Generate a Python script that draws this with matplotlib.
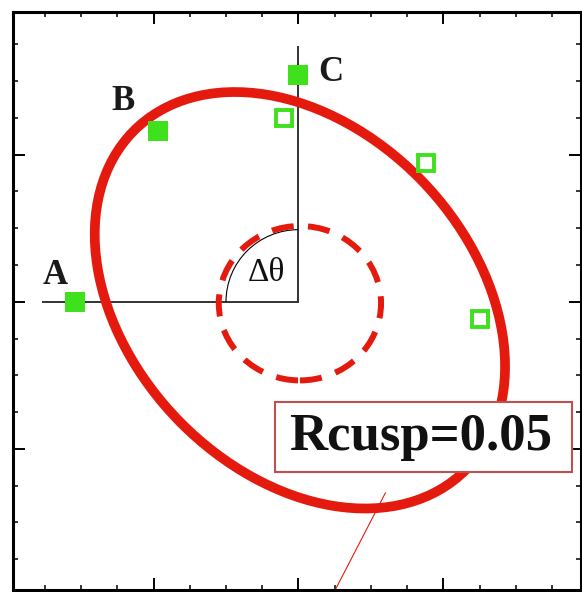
import matplotlib
matplotlib.use('Agg')
import matplotlib.pyplot as plt
from matplotlib.patches import Ellipse, Arc, Rectangle
from matplotlib.ticker import MultipleLocator

# outer (solid) tilted ellipse
outer_center = (0.01, 0.01)
outer_width, outer_height = 3.25, 2.34
outer_angle = -45

# inner dashed circle
cusp_center = (0.01, -0.01)
cusp_w, cusp_h = 1.12, 1.05

# filled points A, B, C
pt_labels = ['A', 'B', 'C']
filled_x = [-1.54, -0.97, 0.0]
filled_y = [0.0, 1.16, 1.54]

# open points
open_x = [-0.10, 0.88, 1.25]
open_y = [1.25, 0.94, -0.12]

label_x = [-1.68, -1.21, 0.22]
label_y = [0.18, 1.36, 1.56]

red = '#e51a0e'
green = '#3fe01c'

fig = plt.figure(figsize=(5.82, 5.92), dpi=100)
ax = fig.add_axes([13 / 582, 2 / 592, 568 / 582, 578 / 592])
ax.set_xlim(-1.97, 1.95)
ax.set_ylim(-1.96, 1.97)

# guide lines and angle arc
ax.plot([-1.76, 0], [0, 0], color='#333333', lw=1.4, zorder=2)
ax.plot([0, 0], [0, 1.73], color='#333333', lw=1.4, zorder=2)
ax.add_patch(Arc((0, 0), 1.0, 0.98, theta1=90, theta2=180, color='black', lw=0.8, zorder=2))

ax.add_patch(Ellipse(cusp_center, cusp_w, cusp_h, fill=False, edgecolor=red, lw=4.3,
                     linestyle=(0, (3.7, 2.4)), zorder=3))

ax.add_patch(Ellipse(outer_center, outer_width, outer_height, angle=outer_angle,
                     fill=False, edgecolor=red, lw=7, zorder=3))

ax.plot(filled_x, filled_y, 's', color=green, ms=14, mew=0, zorder=5)
ax.plot(open_x, open_y, 's', mfc='white', mec=green, ms=11.5, mew=2.8, zorder=5)

for t, x, y in zip(pt_labels, label_x, label_y):
    ax.text(x, y, t, family='Liberation Serif', fontweight='bold', fontsize=25,
            ha='center', va='center', color='#1a1a1a', zorder=6)
ax.text(-0.22, 0.20, '\u0394\u03b8', family='Liberation Serif', fontsize=24,
        ha='center', va='center', color='#111111', zorder=6)

# pointer line below the label box
ax.plot([0.6, 0.18], [-1.30, -2.10], color=red, lw=0.8, zorder=2)

ax.add_patch(Rectangle((-0.16, -1.156), 2.05, 0.476, facecolor='white',
                       edgecolor='#c0504d', lw=1.5, zorder=7))
ax.text(0.845, -1.007, 'Rcusp=0.05', family='Liberation Serif', fontweight='bold',
        fontsize=38, ha='center', va='baseline', color='#111111', zorder=8)

ax.xaxis.set_major_locator(MultipleLocator(1))
ax.yaxis.set_major_locator(MultipleLocator(1))
ax.xaxis.set_minor_locator(MultipleLocator(0.25))
ax.yaxis.set_minor_locator(MultipleLocator(0.25))
ax.tick_params(which='both', direction='in', top=True, right=True,
               labelbottom=False, labelleft=False)
ax.tick_params(which='major', length=8.6, width=1.4)
ax.tick_params(which='minor', length=3.6, width=1.1)
for s in ax.spines.values():
    s.set_linewidth(2.2)

plt.savefig('out.png', dpi=100)
